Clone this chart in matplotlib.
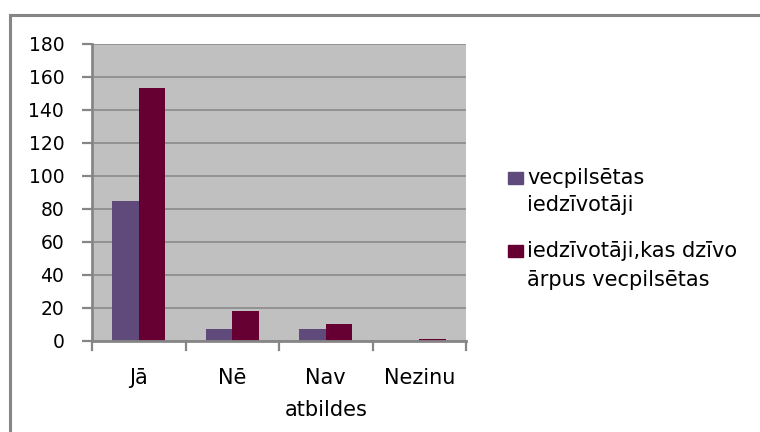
import matplotlib
matplotlib.use("Agg")
import matplotlib.pyplot as plt
from matplotlib.patches import Rectangle
from matplotlib.lines import Line2D
import numpy as np

plt.rcParams['font.family'] = ['DejaVu Sans']

categories = ["Jā", "Nē", "Nav\natbildes", "Nezinu"]
series_names = ["vecpilsētas\niedzīvotāji", "iedzīvotāji,kas dzīvo\nārpus vecpilsētas"]
vecpilsetas = [85, 7, 7, 0]
arpus = [153, 18, 10, 1]
colors = ["#604A7B", "#660033"]
y_ticks = [0, 20, 40, 60, 80, 100, 120, 140, 160, 180]

W, H = 760, 432
fig = plt.figure(figsize=(W / 100, H / 100), dpi=100)
ax = fig.add_axes([92 / W, 91 / H, 374 / W, 297.5 / H])
ax.set_facecolor("#C0C0C0")

x = np.arange(len(categories))
w = 1 / 3.5
ax.bar(x - w / 2, vecpilsetas, width=w, color=colors[0], zorder=3)
ax.bar(x + w / 2, arpus, width=w, color=colors[1], zorder=3)

ax.set_xlim(-0.5, len(categories) - 0.5)
ax.set_ylim(0, 180)
ax.set_yticks(y_ticks)
ax.set_yticklabels([str(v) for v in y_ticks])
ax.yaxis.grid(True, color="#868686", lw=1.1, zorder=1)
ax.set_axisbelow(True)

# category labels centred, tick marks at category boundaries
ax.set_xticks(x)
ax.set_xticklabels(categories, linespacing=1.77, va="top")
ax.tick_params(axis="x", length=0, pad=19.5, labelsize=15)
for b in np.arange(-0.5, len(categories), 1.0):
    ax.plot([b, b], [0, -0.03], transform=ax.get_xaxis_transform(),
            color="#868686", lw=1.6, clip_on=False, zorder=4)

ax.tick_params(axis="y", length=7, width=1.6, color="#868686",
               pad=13, labelsize=13.5)

for s in ["top", "right"]:
    ax.spines[s].set_visible(False)
for s in ["left", "bottom"]:
    ax.spines[s].set_color("#868686")
    ax.spines[s].set_linewidth(2.0)
    ax.spines[s].set_zorder(4)

# legend drawn beside the plot area
legend_rows = [(178, 205), (251, 280)]
for name, col, (y1, y2) in zip(series_names, colors, legend_rows):
    fig.patches.append(Rectangle((508 / W, 1 - (y1 + 6) / H), 15 / W, 12 / H,
                                 transform=fig.transFigure, color=col))
    l1, l2 = name.split("\n")
    fig.text(527 / W, 1 - y1 / H, l1, fontsize=15, va="center", ha="left")
    fig.text(527 / W, 1 - y2 / H, l2, fontsize=15, va="center", ha="left")

# chart area frame
fig.lines.append(Line2D([9.5 / W, 9.5 / W], [0, 1 - 14.5 / H],
                        transform=fig.transFigure, color="#868686", lw=2.2))
fig.lines.append(Line2D([9.5 / W, 1], [1 - 14.5 / H, 1 - 14.5 / H],
                        transform=fig.transFigure, color="#868686", lw=2.2))

fig.savefig("out.png", dpi=100, facecolor="white")
